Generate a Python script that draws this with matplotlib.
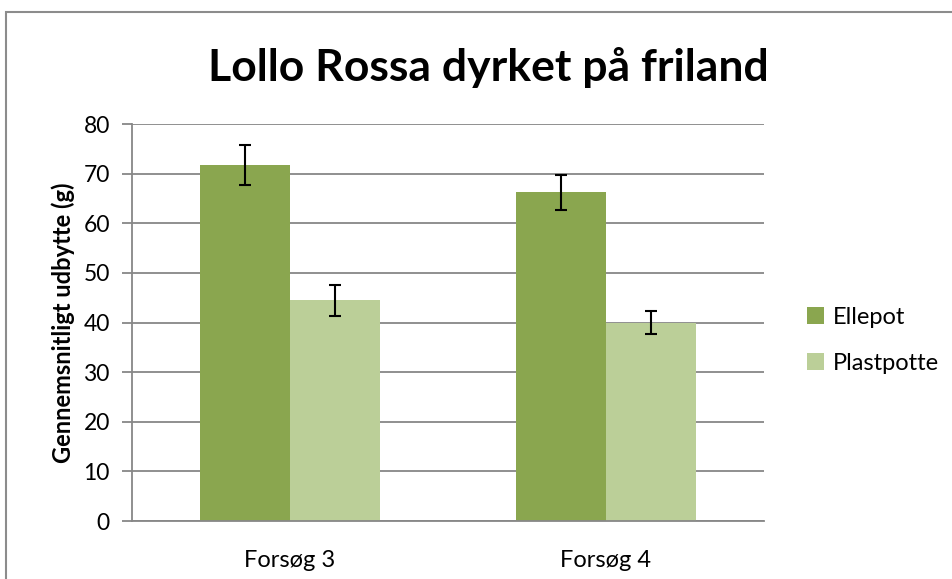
"""
## Lollo Rossa yield bar chart with error bars.
"""
import numpy as np
import matplotlib
matplotlib.use('Agg')
from matplotlib.figure import Figure
from matplotlib.patches import Rectangle

## Chart values.
categories = ['Forsøg 3', 'Forsøg 4']
series = ['Ellepot', 'Plastpotte']
ellepot = [71.7, 66.2]
ellepot_err = [4.0, 3.5]
plastpotte = [44.5, 40.0]
plastpotte_err = [3.1, 2.3]
yticks = [0, 10, 20, 30, 40, 50, 60, 70, 80]

colrs = ['#8AA64F', '#BBCF98']
gridc = '#878787'
fnt = 'Lato'

def main():
    fig = Figure(figsize=(9.52, 5.79), dpi=100)
    fig.patch.set_facecolor('white')

## Outer chart border (only left and top visible in the reference).
    fig.add_artist(Rectangle((6/952, -0.1), 1.2, 1.1 - 12/579,
                   transform=fig.transFigure, fill=False,
                   edgecolor='#8C8C8C', linewidth=1.5))

    ax = fig.add_axes([132/952, 58/579, 632/952, 397/579])
    x = np.arange(len(categories))
    w = 0.285
    ekw = dict(ecolor='black', elinewidth=1.5, capsize=4.5, capthick=1.5,
               zorder=3)
    ax.bar(x - w/2, ellepot, w, color=colrs[0], label=series[0], zorder=2,
           yerr=ellepot_err, error_kw=ekw)
    ax.bar(x + w/2, plastpotte, w, color=colrs[1], label=series[1], zorder=2,
           yerr=plastpotte_err, error_kw=ekw)

    ax.set_xlim(-0.5, 1.5)
    ax.set_ylim(0, 80)
    ax.set_yticks(yticks)
    ax.set_yticklabels([str(v) for v in yticks], fontsize=16.5, family=fnt)
    ax.set_xticks(x)
    ax.set_xticklabels(categories, fontsize=17, family=fnt)
    ax.yaxis.grid(True, color=gridc, linewidth=1.3, zorder=0)
    ax.set_axisbelow(True)
    for s in ['top', 'right']:
        ax.spines[s].set_visible(False)
    for s in ['left', 'bottom']:
        ax.spines[s].set_color(gridc)
        ax.spines[s].set_linewidth(1.3)
    ax.tick_params(axis='y', length=7, color=gridc, width=1.3, pad=9)
    ax.tick_params(axis='x', length=0, pad=21)

    ax.set_ylabel('Gennemsnitligt udbytte (g)', fontsize=17,
                  fontweight='bold', family=fnt, labelpad=6)

    fig.text(488/952, 1 - 68/579, 'Lollo Rossa dyrket på friland',
             ha='center', va='center', fontsize=32, fontweight='bold',
             family=fnt)

    ax.legend(loc='center left', bbox_to_anchor=(1.035, 0.455),
              frameon=False, prop={'family': fnt, 'size': 17},
              handlelength=0.72, handleheight=0.72, labelspacing=1.05,
              handletextpad=0.35)

    fig.savefig('out.png', dpi=100, facecolor='w')

if __name__ == '__main__':
    main()
